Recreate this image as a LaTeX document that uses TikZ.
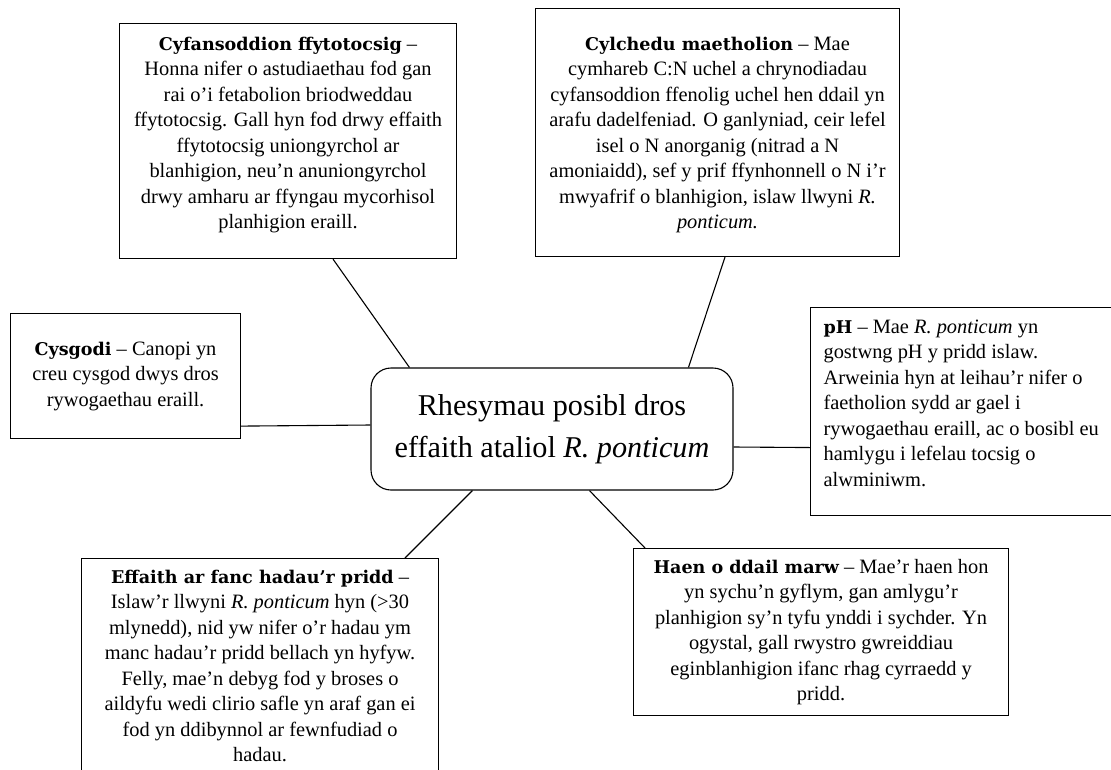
\documentclass[tikz,border=0pt]{standalone}
\usepackage{fontspec}
\setmainfont{Liberation Serif}[Ligatures=NoCommon]
\newfontfamily\headfont{DejaVu Serif}[Scale=0.86]
\newcommand{\hd}[1]{{\headfont\bfseries #1}}
\newcommand{\bodysize}{\fontsize{20.4pt}{25.5pt}\selectfont}
% width, height, top gap, text
\newcommand{\notebox}[4]{\parbox[t][#2][t]{#1}{\bodysize\centering\vspace*{#3}\strut #4\par}}
\tikzset{
  note/.style={draw, line width=1.1pt, inner sep=0pt, anchor=north west},
  hub/.style={draw, line width=1.1pt, rounded corners=20pt, inner sep=0pt,
    minimum width=362pt, minimum height=122pt, align=center,
    font=\fontsize{30.2pt}{42pt}\selectfont},
  link/.style={line width=1.1pt}
}
\begin{document}
\begin{tikzpicture}[x=1pt,y=-1pt]
\useasboundingbox (0,0) rectangle (1111,769);
\node[hub] (hub) at (552,429) {Rhesymau posibl dros\\effaith ataliol \textit{R. ponticum}};
\node[note] (fyto) at (119,23) {\notebox{337pt}{235pt}{9pt}{\hd{Cyfansoddion ffytotocsig} –\\
Honna nifer o astudiaethau fod gan\\
rai o’i fetabolion briodweddau\\
ffytotocsig. Gall hyn fod drwy effaith\\
ffytotocsig uniongyrchol ar\\
blanhigion, neu’n anuniongyrchol\\
drwy amharu ar ffyngau mycorhisol\\
planhigion eraill.}};
\node[note] (maeth) at (535,8) {\notebox{364pt}{248pt}{24pt}{\hd{Cylchedu maetholion} – Mae\\
cymhareb C:N uchel a chrynodiadau\\
cyfansoddion ffenolig uchel hen ddail yn\\
arafu dadelfeniad. O ganlyniad, ceir lefel\\
isel o N anorganig (nitrad a N\\
amoniaidd), sef y prif ffynhonnell o N i’r\\
mwyafrif o blanhigion, islaw llwyni \textit{R.}\\
\textit{ponticum.}}};
\node[note] (cysg) at (10,313) {\notebox{230pt}{125pt}{24pt}{\hd{Cysgodi} – Canopi yn\\
creu cysgod dwys dros\\
rywogaethau eraill.}};
\node[note] (ph) at (810,307) {\parbox[t][208pt][t]{305pt}{\bodysize\raggedright\leftskip=13pt
\vspace*{8pt}\strut\hd{pH} – Mae \textit{R. ponticum} yn\\
gostwng pH y pridd islaw.\\
Arweinia hyn at leihau’r nifer o\\
faetholion sydd ar gael i\\
rywogaethau eraill, ac o bosibl eu\\
hamlygu i lefelau tocsig o\\
alwminiwm.\par}};
\node[note] (haen) at (633,548) {\notebox{375pt}{167pt}{7pt}{\hd{Haen o ddail marw} – Mae’r haen hon\\
yn sychu’n gyflym, gan amlygu’r\\
planhigion sy’n tyfu ynddi i sychder. Yn\\
ogystal, gall rwystro gwreiddiau\\
eginblanhigion ifanc rhag cyrraedd y\\
pridd.}};
\node[note] (effa) at (81,558) {\notebox{357pt}{232pt}{7pt}{\hd{Effaith ar fanc hadau’r pridd} –\\
Islaw’r llwyni \textit{R. ponticum} hyn (>30\\
mlynedd), nid yw nifer o’r hadau ym\\
manc hadau’r pridd bellach yn hyfyw.\\
Felly, mae’n debyg fod y broses o\\
aildyfu wedi clirio safle yn araf gan ei\\
fod yn ddibynnol ar fewnfudiad o\\
hadau.}};
% connectors
\draw[link] ([xshift=214pt]fyto.south west) -- ([xshift=39pt]hub.north west);
\draw[link] ([xshift=190pt]maeth.south west) -- ([xshift=318pt]hub.north west);
\draw[link] ([yshift=13pt]cysg.south east) -- ([yshift=4pt]hub.west);
\draw[link] ([yshift=-18pt]hub.east) -- ([yshift=-36pt]ph.west);
\draw[link] ([xshift=219pt]hub.south west) -- ([xshift=12pt]haen.north west);
\draw[link] ([xshift=102pt]hub.south west) -- ([xshift=324pt]effa.north west);
\end{tikzpicture}
\end{document}
